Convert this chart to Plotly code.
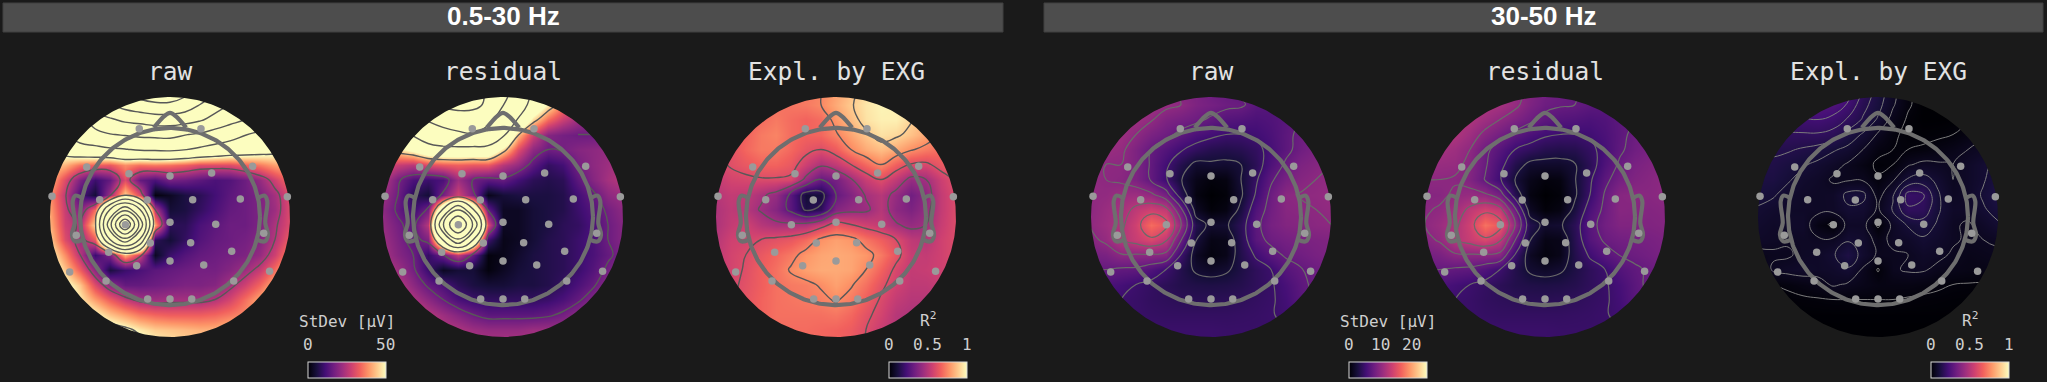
import numpy as np
import plotly.graph_objects as go

W, H = 2047, 382
BG = "#1a1a1a"

# grid nodes of the field, in head radii
grid_x = [-1, -.875, -.75, -.625, -.5, -.375, -.25, -.125, 0, .125, .25, .375, .5, .625, .75, .875, 1]
grid_y = [1.0625, .9375, .8125, .6875, .5625, .4375, .3125, .1875, .0625, -.0625, -.1875, -.3125, -.4375, -.5625, -.6875, -.8125, -.9375, -1.0625]

low_raw = [
[170,170,170,170,170,180,188,192,192,185,170,155,145,135,125,120,120],
[150,150,150,150,150,160,168,172,172,165,150,135,125,115,105,100,100],
[90,90,95,108,122,130,133,138,138,135,128,118,108,100,92,85,80],
[70,75,88,95,99,102,105,106,107,101,97,90,84,76,70,62,58],
[50,56,65,68,72,74,77,78,79,76,71,67,63,60,57,54,50],
[45,42,35,33,32,38,35,36,35,33,30,30,30,33,36,40,42],
[42,30,18,10,15,30,15,12,17,16,14,12,13,16,21,28,35],
[38,26,12,5,22,45,30,1,3,6,8,11,14,16,18,23,30],
[40,27,18,35,100,143,100,25,5,6,9,12,15,16,18,22,30],
[42,28,24,46,143,232,143,40,8,8,12,14,16,16,18,24,30],
[45,30,22,32,100,143,98,8,5,9,13,15,16,17,19,25,33],
[50,38,25,10,18,42,28,3,10,13,15,16,17,18,21,28,38],
[55,44,33,20,6,10,12,14,15,16,17,17,19,22,27,35,45],
[60,52,44,30,20,15,15,16,17,18,18,19,23,28,34,42,50],
[65,58,48,40,33,27,23,22,23,23,23,25,29,35,41,50,55],
[60,58,55,50,44,40,36,34,33,33,33,34,36,38,42,48,52],
[65,62,60,58,55,52,48,45,44,43,42,42,44,46,48,50,52],
[70,68,66,64,60,58,54,50,48,46,45,46,48,50,52,54,56],
]
low_res = [
[150,150,150,150,140,130,125,118,105,85,65,50,35,28,25,22,22],
[125,125,125,125,125,128,128,115,95,78,62,48,36,28,24,22,22],
[75,80,88,96,104,108,105,100,84,67,46,34,27,22,20,20,20],
[40,52,70,80,85,90,93,85,72,43,28,19,17,16,16,16,16],
[35,46,52,60,63,63,62,62,46,30,20,16,17,19,20,21,22],
[30,27,25,30,32,33,32,32,25,21,14,9,11,17,20,22,25],
[25,17,12,10,12,22,16,14,15,11,8,7,8,14,19,23,25],
[22,16,8,5,17,28,18,2,5,6,6,6,7,11,15,20,22],
[20,15,10,17,70,118,70,15,3,3,5,6,7,10,13,17,20],
[21,17,14,25,118,182,118,30,3,3,5,6,8,9,12,16,19],
[22,18,14,18,70,118,70,10,2,3,5,7,8,10,12,16,19],
[23,19,16,9,16,26,15,1,2,4,6,7,8,10,12,15,18],
[25,22,17,10,3,5,5,1,3,5,6,7,8,10,13,17,20],
[28,25,20,15,12,8,6,5,5,6,6,7,9,12,15,20,24],
[32,28,24,20,16,12,10,9,9,9,9,10,12,15,19,24,28],
[36,33,29,25,22,19,16,14,14,14,14,15,17,20,24,28,32],
[40,36,32,28,25,24,22,21,21,21,22,22,22,24,27,30,34],
[42,38,34,30,28,26,24,24,24,24,24,25,26,27,30,32,36],
]
low_r2 = [
[.7,.7,.7,.7,.7,.72,.72,.74,.8,.86,.93,.98,1,.95,.9,.85,.8],
[.66,.67,.68,.69,.7,.71,.72,.75,.82,.89,.95,.98,.97,.93,.88,.84,.8],
[.64,.65,.66,.69,.72,.69,.67,.69,.78,.86,.94,.97,.97,.91,.85,.8,.78],
[.6,.62,.67,.72,.74,.69,.67,.68,.74,.81,.88,.94,.92,.87,.81,.75,.7],
[.58,.62,.68,.72,.72,.68,.63,.6,.65,.75,.82,.86,.82,.76,.72,.69,.67],
[.57,.61,.64,.67,.67,.64,.55,.47,.52,.6,.68,.75,.66,.59,.58,.64,.68],
[.53,.57,.58,.59,.59,.58,.42,.3,.34,.44,.54,.6,.52,.42,.45,.55,.62],
[.5,.53,.52,.47,.42,.27,.1,.11,.3,.37,.46,.5,.42,.33,.4,.53,.6],
[.48,.52,.5,.44,.38,.27,.13,.17,.38,.42,.43,.5,.4,.36,.42,.53,.6],
[.48,.53,.56,.5,.47,.47,.48,.55,.64,.6,.56,.53,.46,.42,.45,.54,.6],
[.5,.56,.57,.6,.62,.64,.69,.77,.8,.78,.71,.66,.6,.52,.5,.56,.6],
[.52,.57,.6,.64,.68,.72,.78,.81,.82,.81,.78,.72,.63,.54,.53,.56,.6],
[.53,.57,.61,.66,.7,.76,.8,.82,.82,.81,.75,.67,.58,.53,.54,.56,.58],
[.55,.58,.62,.66,.7,.72,.73,.76,.8,.76,.7,.62,.56,.52,.52,.54,.56],
[.56,.59,.63,.67,.7,.71,.72,.73,.76,.72,.66,.59,.53,.5,.5,.52,.54],
[.58,.6,.64,.67,.7,.7,.7,.7,.71,.68,.62,.57,.5,.48,.48,.5,.52],
[.58,.6,.64,.67,.69,.69,.69,.68,.67,.65,.6,.54,.5,.48,.48,.5,.52],
[.58,.6,.64,.67,.69,.69,.69,.68,.67,.65,.6,.54,.5,.48,.48,.5,.52],
]
high_raw = [
[10,10,10,10,10,10,9.5,9,8,7.5,7,7,7,7,7.5,8,8],
[11,11,11,11,11,10.5,10,9,8.5,8,7.8,6.8,6.5,6.5,7,7,7],
[11,11,11,11,10.2,9,8.5,8,7.2,6.5,6.3,6,6.3,6.8,7.5,8,8],
[11,11,11,10,8.8,8,7,6,5.5,5,5,5.3,6,7,8,8.8,9],
[11,10.8,10.4,9,7.5,6.4,5.2,4.3,3.6,3.4,3.7,4.4,5.7,7,8.2,9,9.5],
[10.5,10,10,9,7.3,5.4,3.5,2,2.2,2.1,2.5,4,6.2,7.8,9,9.5,10],
[10.3,10,9.7,9,7.3,5.2,2.6,1,.4,.6,2.5,4.7,7.2,8.7,9.5,10,10.3],
[10.2,10.3,10.9,11,10.4,8.5,3.7,.6,0,.3,2.2,5.2,8,9.8,10.1,10.2,10.5],
[10,10.8,11.5,13,14,13.2,8,1.5,.3,.7,3,6.3,8.3,9.6,9.8,10,10.3],
[10.2,11,12,14,17.3,15.8,10.3,3.5,2,2.2,4,7,8.6,9.3,9.5,9.8,10],
[9.5,10.5,12.3,13.5,14.6,13,7.7,2.6,.8,1,3.8,6.8,8,8.5,8.8,9,9.2],
[8.5,8.8,9.9,9.9,9.9,9.5,5,1.5,.5,1,3.5,5.3,6.8,7.8,8.2,8.7,9],
[7.6,7.5,7.2,7.1,6.2,5,3.5,2.2,1.8,2.2,3.2,4.2,5,6.6,7.4,8,8.5],
[6.5,6,5.6,5,4.5,4,3.5,3.3,3.2,3.3,3.6,4.2,4.8,5.8,7,8,8.5],
[6,5.5,5,4.8,4.4,4.2,4,3.9,3.9,4,4.2,4.5,4.8,5.5,6.8,7.7,8],
[5.5,5.2,4.9,4.8,4.6,4.5,4.5,4.5,4.5,4.5,4.6,4.7,4.9,5.3,6,6.8,7],
[5.5,5.2,5,5,5,4.9,4.9,4.9,4.9,4.8,4.8,4.8,4.8,5,5.4,6,6.5],
[5.5,5.2,5,5,5,4.9,4.9,4.9,4.9,4.8,4.8,4.8,4.8,5,5.4,6,6.5],
]
high_res = [
[11,11,11,11,11,11,10.5,9.5,8.5,8,7.5,7.3,7.3,7.5,7.5,8,8],
[12,12,12,12,12,11.5,10.5,9,8,7.7,7.5,7,6.8,7,7.2,7.5,7.5],
[12,12,12,12,11,10,9,8,7,6.5,6.3,6,6.3,7,7.5,8,8],
[12,12,12,11,9.5,8.3,7,6,5.3,5,5,5.3,6,7,8,8.5,9],
[11.5,11.5,11,10,8,6.6,5,4.3,3.6,3.4,3.6,4.5,5.7,7.2,8.2,8.8,9.2],
[10.8,10.6,10.5,9.5,7.8,5.7,3.5,2,1.9,1.9,2.4,4,6.2,7.8,8.8,9.3,9.6],
[10,10,9.8,9.2,7.4,5.2,2.5,1,.4,.6,2.4,4.7,7,8.5,9.2,9.6,10],
[9.5,9.6,10.3,10.6,10.3,8.5,3.8,.6,0,.3,2.2,5,7.7,9.6,9.8,9.7,10],
[9.8,10.2,11.2,13,14.2,13.3,8,1.5,.3,.7,3,6,8,9.6,9.5,9.4,9.6],
[10,10.8,12,14,17.6,16,10.3,3.5,2,2.2,4,6.8,8.3,9.2,9.2,9.2,9.4],
[9.4,10.3,12.3,13.5,14.6,13,7.7,2.6,.8,1,3.8,6.5,7.8,8.3,8.5,8.7,9],
[8.4,8.8,9.8,9.9,9.9,9.5,5,1.5,.5,1,3.5,5.3,6.7,7.6,8,8.4,8.8],
[7.6,7.5,7.2,7,6.2,5,3.5,2.2,1.8,2.2,3.2,4.2,5,6.4,7.2,7.8,8.3],
[6.5,6,5.5,5,4.5,4,3.5,3.3,3.2,3.3,3.6,4.2,4.8,5.7,6.9,8,8.4],
[6,5.5,5,4.8,4.4,4.2,4,3.9,3.9,4,4.2,4.5,4.8,5.5,6.8,7.7,8],
[5.5,5.2,4.9,4.8,4.6,4.5,4.5,4.5,4.5,4.5,4.6,4.7,4.9,5.3,6,6.8,7],
[5.5,5.2,5,5,5,4.9,4.9,4.9,4.9,4.8,4.8,4.8,4.8,5,5.4,6,6.5],
[5.5,5.2,5,5,5,4.9,4.9,4.9,4.9,4.8,4.8,4.8,4.8,5,5.4,6,6.5],
]
high_r2 = [
[.22,.22,.23,.25,.27,.27,.24,.17,.12,.07,.02,0,0,0,0,0,.01],
[.21,.21,.22,.24,.26,.25,.21,.15,.11,.06,.02,0,0,0,0,.01,.01],
[.19,.19,.2,.21,.215,.2,.17,.13,.09,.04,.01,0,0,.002,.01,.02,.03],
[.17,.17,.17,.17,.17,.16,.12,.09,.05,.02,.008,.005,.008,.015,.03,.05,.06],
[.14,.14,.14,.13,.12,.1,.085,.055,.025,.015,.015,.02,.03,.04,.055,.065,.08],
[.13,.13,.115,.1,.085,.07,.05,.03,.008,.015,.05,.065,.06,.055,.07,.09,.1],
[.12,.12,.1,.08,.07,.05,.05,.05,.02,.05,.1,.11,.085,.055,.07,.09,.12],
[.11,.1,.08,.07,.065,.07,.105,.105,.04,.09,.19,.18,.1,.06,.07,.1,.13],
[.09,.08,.07,.07,.066,.068,.09,.085,.05,.1,.17,.165,.1,.07,.07,.09,.11],
[.08,.07,.075,.075,.03,.008,.068,.068,.008,.065,.1,.115,.09,.06,.05,.07,.09],
[.07,.065,.06,.065,.06,.06,.09,.08,.04,.065,.07,.09,.075,.06,.05,.055,.06],
[.045,.05,.05,.065,.07,.09,.125,.08,.05,.05,.055,.07,.065,.05,.04,.045,.05],
[.03,.06,.07,.075,.07,.075,.09,.05,.012,.05,.06,.06,.045,.04,.035,.035,.04],
[.01,.015,.02,.03,.04,.06,.05,.04,.03,.03,.03,.025,.02,.015,.013,.012,.015],
[.005,.005,.008,.01,.012,.015,.015,.015,.015,.015,.012,.01,.008,.006,.005,.005,.005],
[.002,.002,.002,.002,.002,.002,.002,.002,.002,.002,.002,.002,.002,.002,.002,.002,.002],
[0,0,0,0,0,0,0,0,0,0,0,0,0,0,0,0,0],
[0,0,0,0,0,0,0,0,0,0,0,0,0,0,0,0,0],
]

# sensor positions, in head radii
sensor_x = [-.256,.258,-.694,-.342,0,.347,.689,-.983,-.586,-.189,.189,.586,.978,-.781,-.372,0,.381,.781,-.511,-.164,.172,.514,-.836,-.278,0,.281,.83,-.533,.531,-.186,0,.181]
sensor_y = [.736,.736,.417,.361,.342,.367,.422,.172,.144,.142,.144,.15,.169,-.153,-.064,-.044,-.061,-.136,-.294,-.217,-.214,-.286,-.458,-.406,-.367,-.4,-.453,-.533,-.533,-.683,-.683,-.683]

nose_x = [-.135,-.055,0,.055,.135]
nose_y = [.745,.835,.868,.835,.745]
ear_x = [-.733,-.789,-.811,-.794,-.817,-.789,-.725]
ear_y = [.158,.178,.13,-.05,-.147,-.203,-.19]

panel_center_x = [170, 503, 836, 1211, 1545, 1878]
panel_fields = [low_raw, low_res, low_r2, high_raw, high_res, high_r2]
panel_titles = ["raw", "residual", "Expl. by EXG", "raw", "residual", "Expl. by EXG"]
panel_zmax = [50, 50, 1, 25, 25, 1]
panel_levels = [(25, 225, 25), (16, 172, 26), (.15, .9, .15), (2.5, 15, 2.5), (2.5, 15, 2.5), (.015, .255, .04)]
panel_line = [("#585858", 1.4), ("#585858", 1.4), ("#585858", 1.4), ("#6a6a6a", 1.2), ("#6a6a6a", 1.2), ("#7c7c7c", 1.0)]

# colour bars: panel holding it, centre, tick texts and positions, label
bar_panel = [0, 2, 3, 5]
bar_center = [346.5, 927.5, 1388, 1969.5]
bar_ticks = [["0", "50"], ["0", "0.5", "1"], ["0", "10", "20"], ["0", "0.5", "1"]]
bar_tick_vals = [[0, 50], [0, .5, 1], [0, 10, 20], [0, .5, 1]]
bar_label = ["StDev [μV]", "R<sup>2</sup>", "StDev [μV]", "R<sup>2</sup>"]
bar_label_y = [321, 319, 321, 319]
bar_len = 78

header_text = ["0.5-30 Hz", "30-50 Hz"]
header_left = [3, 1044]
header_right = [1003, 2043]

TOP, RAD, PAD = 97, 120, 2
MONO = "DejaVu Sans Mono"


def px(v):
    return v / W


def py(v):
    return 1 - v / H


theta = np.linspace(0, 2 * np.pi, 361)
edge = 1.1
mask_x = [-edge, -edge, edge, edge, -edge, -edge] + list(np.cos(np.pi + theta))
mask_y = [0, edge, edge, -edge, -edge, 0] + list(np.sin(np.pi + theta))
span = (RAD + PAD) / RAD

fig = go.Figure()
layout_axes = {}
annotations = []
for i, (cx, field) in enumerate(zip(panel_center_x, panel_fields)):
    n = "" if i == 0 else str(i + 1)
    layout_axes["xaxis" + n] = dict(domain=[px(cx - RAD - PAD), px(cx + RAD + PAD)], range=[-span, span], visible=False, fixedrange=True, anchor="y" + n)
    layout_axes["yaxis" + n] = dict(domain=[py(TOP + 2 * RAD + PAD), py(TOP - PAD)], range=[-span, span], visible=False, fixedrange=True, anchor="x" + n)
    ax = dict(xaxis="x" + n, yaxis="y" + n)
    z = field[::-1]
    ys = grid_y[::-1]
    hm = dict(x=grid_x, y=ys, z=z, colorscale="Magma", zmin=0, zmax=panel_zmax[i], zsmooth="best", showscale=False, hoverinfo="skip", **ax)
    if i in bar_panel:
        k = bar_panel.index(i)
        hm["showscale"] = True
        hm["colorbar"] = dict(
            orientation="h", lenmode="pixels", len=bar_len, thicknessmode="pixels", thickness=16,
            x=px(bar_center[k]), xanchor="center", y=py(379), yanchor="bottom",
            xpad=0, ypad=0, outlinecolor="#d8d8d8", outlinewidth=1, borderwidth=0,
            ticks="", showticklabels=False, tickvals=bar_tick_vals[k],
        )
    fig.add_trace(go.Heatmap(**hm))
    start, end, size = panel_levels[i]
    fig.add_trace(go.Contour(
        x=grid_x, y=ys, z=z, autocontour=False, showscale=False, hoverinfo="skip",
        contours=dict(start=start, end=end, size=size, coloring="none", showlabels=False),
        line=dict(color=panel_line[i][0], width=panel_line[i][1], smoothing=1.3), **ax))
    fig.add_trace(go.Scatter(x=mask_x, y=mask_y, mode="lines", line=dict(width=0, color=BG), fill="toself", fillcolor=BG, hoverinfo="skip", showlegend=False, **ax))
    head_line = dict(color="#6e6e6e", width=4.2)
    fig.add_trace(go.Scatter(x=.75 * np.cos(theta), y=.738 * np.sin(theta) + .004, mode="lines", line=head_line, hoverinfo="skip", showlegend=False, **ax))
    fig.add_trace(go.Scatter(x=nose_x, y=nose_y, mode="lines", line=dict(shape="spline", smoothing=.6, **head_line), hoverinfo="skip", showlegend=False, **ax))
    for sign in (-1, 1):
        fig.add_trace(go.Scatter(x=[sign * v for v in ear_x], y=ear_y, mode="lines", line=dict(shape="spline", smoothing=1, **head_line), hoverinfo="skip", showlegend=False, **ax))
    fig.add_trace(go.Scatter(x=sensor_x, y=sensor_y, mode="markers", marker=dict(color="#9a9a9a", size=7.5), hoverinfo="skip", showlegend=False, **ax))
    annotations.append(dict(text=panel_titles[i], x=px(cx), y=py(72), xref="paper", yref="paper", xanchor="center", yanchor="middle", showarrow=False, font=dict(family=MONO, size=24.5, color="#e2e2e2")))

shapes = []
for left, right, text in zip(header_left, header_right, header_text):
    shapes.append(dict(type="rect", xref="paper", yref="paper", x0=px(left), x1=px(right), y0=py(32), y1=py(3), fillcolor="#4d4d4d", line=dict(color="#404040", width=1), layer="below"))
    annotations.append(dict(text=text, x=px((left + right) / 2), y=py(16.5), xref="paper", yref="paper", xanchor="center", yanchor="middle", showarrow=False, font=dict(family="Liberation Sans", size=26, color="#ffffff", weight="bold")))

for k, c in enumerate(bar_center):
    annotations.append(dict(text=bar_label[k], x=px(c), y=py(bar_label_y[k]), xref="paper", yref="paper", xanchor="center", yanchor="middle", showarrow=False, font=dict(family=MONO, size=16, color="#cfcfcf")))
    zm = panel_zmax[bar_panel[k]]
    for val, txt in zip(bar_tick_vals[k], bar_ticks[k]):
        annotations.append(dict(text=txt, x=px(c - bar_len / 2 + bar_len * val / zm), y=py(344), xref="paper", yref="paper", xanchor="center", yanchor="middle", showarrow=False, font=dict(family=MONO, size=16, color="#cfcfcf")))

fig.update_layout(
    width=W, height=H, margin=dict(l=0, r=0, t=0, b=0, pad=0, autoexpand=False),
    paper_bgcolor=BG, plot_bgcolor=BG, showlegend=False, shapes=shapes, annotations=annotations, **layout_axes,
)
fig.write_html("out.html", config=dict(displayModeBar=False), post_script="document.body.style.margin='0';document.body.style.overflow='hidden';document.body.style.background='#1a1a1a';")
